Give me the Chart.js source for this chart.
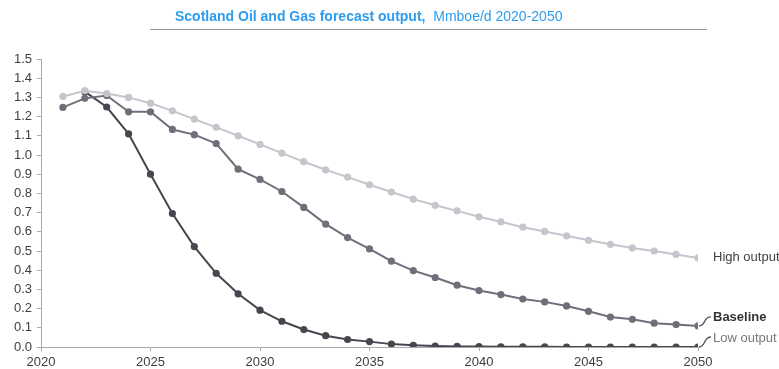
<!DOCTYPE html>
<html lang="en">

<head>
  <meta charset="UTF-8">
  <title>Scotland Oil and Gas forecast output</title>
  <script src="https://cdn.jsdelivr.net/npm/chart.js"></script>
  <style>
    body { margin: 0; background: #fff; font-family: 'Liberation Sans', Arial, sans-serif; }
    .wrap { position: relative; width: 779px; height: 369px; }
    .title { position: absolute; left: 150px; top: 6px; width: 532px; padding-left: 25px; height: 23px; border-bottom: 1px solid #999; color: #2e9cee; font-size: 14px; text-align: left; line-height: 20px; }
    .title b { font-weight: bold; }
    canvas { position: absolute; left: 0; top: 0; }
  </style>
</head>

<body>
  <div class="wrap">
    <canvas id="chart" width="779" height="369"></canvas>
    <div class="title"><b>Scotland Oil and Gas forecast output,</b>&nbsp; Mmboe/d 2020-2050</div>
  </div>

  <script>
    const years = [2021, 2022, 2023, 2024, 2025, 2026, 2027, 2028, 2029, 2030,
      2031, 2032, 2033, 2034, 2035, 2036, 2037, 2038, 2039, 2040,
      2041, 2042, 2043, 2044, 2045, 2046, 2047, 2048, 2049, 2050]
    const highOutput = [1.305, 1.335, 1.32, 1.30, 1.27, 1.23, 1.187, 1.144, 1.10, 1.055,
      1.01, 0.965, 0.923, 0.885, 0.845, 0.807, 0.77, 0.738, 0.709, 0.678,
      0.652, 0.624, 0.602, 0.579, 0.556, 0.535, 0.516, 0.50, 0.482, 0.464]
    const baseline = [1.248, 1.295, 1.31, 1.225, 1.225, 1.133, 1.106, 1.06, 0.926, 0.873,
      0.81, 0.727, 0.64, 0.57, 0.511, 0.447, 0.398, 0.362, 0.322, 0.294,
      0.273, 0.25, 0.235, 0.214, 0.186, 0.156, 0.144, 0.124, 0.117, 0.11]
    const lowOutput = [null, 1.33, 1.25, 1.11, 0.90, 0.695, 0.523, 0.384, 0.277, 0.192,
      0.134, 0.091, 0.059, 0.039, 0.028, 0.015, 0.009, 0.005, 0.003, 0.002,
      0.001, 0.001, 0.001, 0, 0, 0, 0, 0, 0, 0]
    const seriesNames = ['High output', 'Baseline', 'Low output']
    const yTicks = [0, 0.1, 0.2, 0.3, 0.4, 0.5, 0.6, 0.7, 0.8, 0.9, 1.0, 1.1, 1.2, 1.3, 1.4, 1.5]
    const xTicks = [2020, 2025, 2030, 2035, 2040, 2045, 2050]

    const colors = ['#c5c5cd', '#6f6f79', '#46464f']

    function toPoints (vals) {
      return years.map((y, i) => ({ x: y, y: vals[i] }))
    }

    // end labels, with little curly connectors for the two lower lines
    const endLabels = {
      id: 'endLabels',
      afterDatasetsDraw (chart) {
        const ctx = chart.ctx
        const xs = chart.scales.x
        const ys = chart.scales.y
        const last = years.length - 1
        const px = xs.getPixelForValue(years[last])
        ctx.save()
        ctx.textBaseline = 'middle'
        ctx.textAlign = 'left'

        const hy = ys.getPixelForValue(highOutput[last])
        ctx.font = '13px "Liberation Sans", Arial, sans-serif'
        ctx.fillStyle = '#404040'
        ctx.fillText(seriesNames[0], px + 15, hy)

        const curl = (py, ly) => {
          ctx.strokeStyle = '#555'
          ctx.lineWidth = 1.3
          ctx.beginPath()
          ctx.moveTo(px + 1, py)
          ctx.bezierCurveTo(px + 8, py, px + 5, ly, px + 13, ly)
          ctx.stroke()
        }

        const by = ys.getPixelForValue(baseline[last])
        curl(by, by - 9)
        ctx.font = 'bold 13px "Liberation Sans", Arial, sans-serif'
        ctx.fillStyle = '#333'
        ctx.fillText(seriesNames[1], px + 15, by - 8)

        const ly = ys.getPixelForValue(lowOutput[last])
        curl(ly, ly - 10)
        ctx.font = '13px "Liberation Sans", Arial, sans-serif'
        ctx.fillStyle = '#777'
        ctx.fillText(seriesNames[2], px + 15, ly - 9)
        ctx.restore()
      }
    }

    const datasets = [highOutput, baseline, lowOutput].map((vals, i) => ({
      label: seriesNames[i],
      data: toPoints(vals),
      borderColor: colors[i],
      backgroundColor: colors[i],
      pointBackgroundColor: colors[i],
      pointBorderWidth: 0,
      pointRadius: 3.6,
      borderWidth: 2,
      tension: 0
    }))

    new Chart(document.getElementById('chart'), {
      type: 'line',
      data: { datasets },
      plugins: [endLabels],
      options: {
        responsive: false,
        animation: false,
        layout: { padding: { top: 59, right: 81, left: 0, bottom: 0 } },
        plugins: { legend: { display: false }, tooltip: { enabled: false } },
        scales: {
          x: {
            type: 'linear',
            min: 2020,
            max: 2050,
            afterFit: s => { s.height = 22 },
            afterBuildTicks: s => { s.ticks = xTicks.map(v => ({ value: v })) },
            grid: { drawOnChartArea: false, tickLength: 4, color: '#aaa' },
            border: { color: '#aaa', width: 1 },
            ticks: { color: '#404040', font: { family: '"Liberation Sans", Arial', size: 13 }, padding: 4, maxRotation: 0, callback: v => String(v) }
          },
          y: {
            min: 0,
            max: 1.5,
            afterFit: s => { s.width = 41 },
            afterBuildTicks: s => { s.ticks = yTicks.map(v => ({ value: v })) },
            grid: { drawOnChartArea: false, tickLength: 4, color: '#aaa' },
            border: { color: '#aaa', width: 1 },
            ticks: { color: '#404040', font: { family: '"Liberation Sans", Arial', size: 13 }, padding: 5, callback: v => v.toFixed(1) }
          }
        }
      }
    })
  </script>
</body>

</html>
